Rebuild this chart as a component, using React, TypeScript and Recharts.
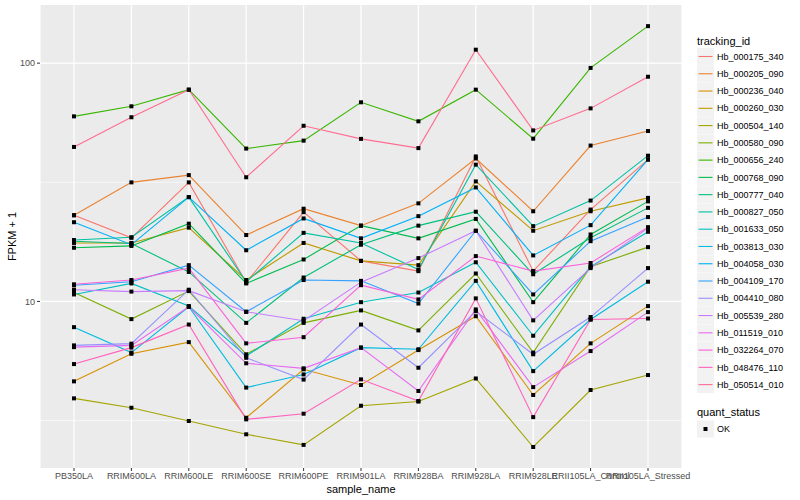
import React from 'react';
import { LineChart, Line, XAxis, YAxis, CartesianGrid } from 'recharts';

const categories = [
  'PB350LA', 'RRIM600LA', 'RRIM600LE', 'RRIM600SE', 'RRIM600PE', 'RRIM901LA',
  'RRIM928BA', 'RRIM928LA', 'RRIM928LE', 'RRII105LA_Control', 'RRII105LA_Stressed',
];

const trackingIds = [
  'Hb_000175_340', 'Hb_000205_090', 'Hb_000236_040', 'Hb_000260_030', 'Hb_000504_140',
  'Hb_000580_090', 'Hb_000656_240', 'Hb_000768_090', 'Hb_000777_040', 'Hb_000827_050',
  'Hb_001633_050', 'Hb_003813_030', 'Hb_004058_030', 'Hb_004109_170', 'Hb_004410_080',
  'Hb_005539_280', 'Hb_011519_010', 'Hb_032264_070', 'Hb_048476_110', 'Hb_050514_010',
];

// ggplot default hue palette, 20 levels
const trackingColors = [
  '#F8766D', '#EA8331', '#D89000', '#C09B00', '#A3A500',
  '#7CAE00', '#39B600', '#00BB4E', '#00BF7D', '#00C1A3',
  '#00BFC4', '#00BAE0', '#00B0F6', '#35A2FF', '#9590FF',
  '#C77CFF', '#E76BF3', '#FA62DB', '#FF62BC', '#FF6C91',
];

// FPKM + 1, one value per sample
const hb000175 = [23.0, 18.5, 31.6, 12.0, 23.7, 14.8, 13.4, 40.6, 13.4, 24.3, 39.4];
const hb000205 = [23.0, 31.6, 33.9, 19.0, 24.5, 20.8, 25.8, 39.8, 23.9, 45.1, 51.9];
const hb000236 = [4.62, 6.03, 6.75, 3.25, 5.19, 4.46, 6.25, 8.67, 4.05, 6.67, 9.56];
const hb000260 = [17.6, 17.6, 20.4, 12.3, 17.6, 14.8, 14.2, 31.9, 19.8, 23.9, 27.2];
const hb000504 = [3.92, 3.58, 3.15, 2.77, 2.5, 3.65, 3.8, 4.75, 2.45, 4.25, 4.91];
const hb000580 = [10.9, 8.43, 11.05, 6.0, 8.13, 9.17, 7.56, 13.1, 6.1, 14.0, 16.9];
const hb000656 = [59.8, 65.9, 77.4, 43.8, 47.3, 68.5, 57.0, 77.4, 48.2, 95.5, 143];
const hb000768 = [16.8, 17.1, 21.2, 11.9, 15.0, 20.8, 18.4, 22.2, 9.93, 19.1, 26.3];
const hb000777 = [17.9, 17.5, 13.3, 8.13, 12.6, 17.3, 20.8, 23.8, 13.0, 18.5, 24.7];
const hb000827 = [18.1, 18.6, 27.4, 12.1, 19.4, 17.6, 13.6, 37.5, 20.7, 26.5, 40.9];
const hb001633 = [10.7, 11.9, 9.56, 5.9, 8.46, 9.93, 10.9, 14.6, 7.18, 14.0, 19.6];
const hb003813 = [7.8, 6.1, 9.5, 4.35, 4.94, 6.4, 6.3, 12.2, 5.1, 8.4, 12.1];
const hb004058 = [21.5, 17.3, 27.4, 16.4, 22.3, 18.4, 22.8, 30.1, 15.6, 20.9, 39.4];
const hb004109 = [11.7, 12.1, 14.2, 9.05, 12.3, 12.2, 9.8, 19.8, 10.7, 17.9, 22.6];
const hb004410 = [6.54, 6.65, 11.2, 5.8, 4.7, 8.0, 5.27, 9.1, 6.0, 8.6, 13.8];
const hb005539 = [11.2, 11.0, 11.1, 9.05, 8.3, 12.05, 15.2, 19.8, 8.33, 13.8, 20.3];
const hb011519 = [6.43, 6.54, 9.5, 5.5, 5.24, 6.4, 4.21, 9.26, 4.37, 6.19, 9.02];
const hb032264 = [11.8, 12.3, 13.8, 6.67, 7.08, 11.7, 10.2, 15.5, 13.4, 14.5, 20.5];
const hb048476 = [5.46, 6.4, 8.0, 3.2, 3.38, 4.71, 3.82, 10.3, 3.27, 8.4, 8.48];
const hb050514 = [44.5, 59.3, 77.4, 33.2, 54.6, 48.1, 44.0, 113.9, 52.2, 64.6, 87.7];

const seriesValues = [
  hb000175, hb000205, hb000236, hb000260, hb000504, hb000580, hb000656, hb000768,
  hb000777, hb000827, hb001633, hb003813, hb004058, hb004109, hb004410, hb005539,
  hb011519, hb032264, hb048476, hb050514,
];

const majorTicks = [10, 100];
const minorTicks = [3.162, 31.62];

const chartData = categories.map((sample, i) => {
  const row: Record<string, string | number> = { sample };
  trackingIds.forEach((id, k) => {
    row[id] = seriesValues[k][i];
  });
  return row;
});

const FONT = '"Liberation Sans", Arial, Helvetica, sans-serif';

const SquareDot = (props: any) => {
  const { cx, cy } = props;
  if (cx == null || cy == null) return null;
  return <rect x={cx - 2} y={cy - 2} width={4} height={4} fill="#000" />;
};

const LegendPanel = () => {
  const top = 48;
  const step = 17.27;
  return (
    <svg
      width={110}
      height={460}
      style={{ position: 'absolute', left: 690, top: 0, fontFamily: FONT }}
    >
      <text x={7} y={44.5} fontSize={11} fill="#000">tracking_id</text>
      {trackingIds.map((id, k) => {
        const y = top + k * step;
        return (
          <g key={id}>
            <rect x={7} y={y} width={17} height={17} fill="#F2F2F2" />
            <line x1={8.5} x2={22.5} y1={y + 8.5} y2={y + 8.5} stroke={trackingColors[k]} strokeWidth={1.1} />
            <text x={27} y={y + 8.5} dy="0.35em" fontSize={9} fill="#000">{id}</text>
          </g>
        );
      })}
      <text x={7} y={416} fontSize={11} fill="#000">quant_status</text>
      <rect x={7} y={420.5} width={17} height={17} fill="#F2F2F2" />
      <rect x={13.5} y={427} width={4} height={4} fill="#000" />
      <text x={27} y={429} dy="0.35em" fontSize={9} fill="#000">OK</text>
    </svg>
  );
};

export default function App() {
  return (
    <div style={{ position: 'absolute', left: 0, top: 0, width: 800, height: 500, background: '#fff', fontFamily: FONT }}>
      <LineChart
        width={800}
        height={500}
        data={chartData}
        margin={{ top: 5, right: 118, bottom: 0, left: 0 }}
      >
        <CartesianGrid
          fill="#EBEBEB"
          stroke="#FFFFFF"
          strokeWidth={0.6}
          vertical={false}
          horizontalValues={minorTicks}
        />
        <CartesianGrid
          stroke="#FFFFFF"
          strokeWidth={1.2}
          horizontalValues={majorTicks}
        />
        <XAxis
          dataKey="sample"
          type="category"
          interval={0}
          padding={{ left: 34, right: 34 }}
          height={32}
          axisLine={false}
          tickSize={3}
          tickMargin={2}
          tickLine={{ stroke: '#333333' }}
          tick={{ fontSize: 9, fill: '#4D4D4D', fontFamily: FONT }}
          label={{ value: 'sample_name', position: 'insideBottom', offset: 7, fontSize: 11, fill: '#000', fontFamily: FONT }}
        />
        <YAxis
          scale="log"
          domain={[2.0, 175.4]}
          allowDataOverflow
          ticks={majorTicks}
          width={40}
          axisLine={false}
          tickSize={3}
          tickMargin={2}
          tickLine={{ stroke: '#333333' }}
          tick={{ fontSize: 9, fill: '#4D4D4D', fontFamily: FONT }}
          label={{ value: 'FPKM + 1', angle: -90, position: 'insideLeft', offset: 12, fontSize: 11, fill: '#000', fontFamily: FONT, style: { textAnchor: 'middle' } }}
        />
        {trackingIds.map((id, k) => (
          <Line
            key={id}
            dataKey={id}
            stroke={trackingColors[k]}
            strokeWidth={1.1}
            dot={false}
            activeDot={false}
            isAnimationActive={false}
          />
        ))}
        {trackingIds.map((id) => (
          <Line
            key={`pt-${id}`}
            dataKey={id}
            stroke="none"
            dot={<SquareDot />}
            activeDot={false}
            legendType="none"
            isAnimationActive={false}
          />
        ))}
      </LineChart>
      <LegendPanel />
    </div>
  );
}
